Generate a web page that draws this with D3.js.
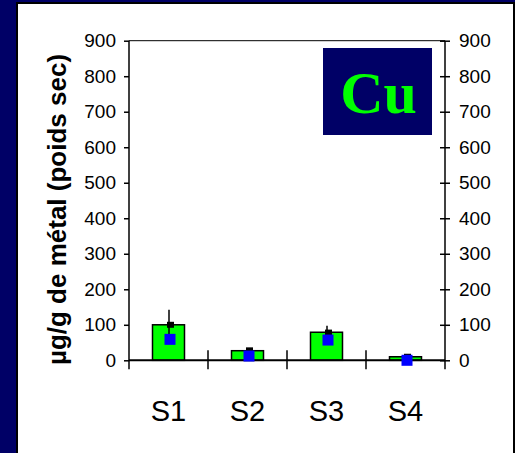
<!DOCTYPE html>
<html>
<head>
<meta charset="utf-8">
<script src="https://cdn.jsdelivr.net/npm/d3@7"></script>
<style>
  html, body { margin: 0; padding: 0; background: #000066; }
  svg { display: block; }
</style>
</head>
<body>
<div id="app"></div>
<script>
const width = 515;
const height = 453;

// data
const sites = ['S1', 'S2', 'S3', 'S4'];
const barValues = [100, 27, 79, 10];
const meanValues = [100, 28, 78, 10];
const errValues = [42, 5, 19, 3];
const blueValues = [59, 12, 57, 0];
const yTicks = [0, 100, 200, 300, 400, 500, 600, 700, 800, 900];
const metal = 'Cu';
const yTitle = 'µg/g de métal (poids sec)';

const svg = d3.create('svg')
  .attr('width', width)
  .attr('height', height);

svg.append('rect')
  .attr('width', width).attr('height', height)
  .attr('fill', '#000066');

// white panel
svg.append('rect')
  .attr('x', 17).attr('y', 3)
  .attr('width', 497).attr('height', 460)
  .attr('fill', '#fff')
  .attr('stroke', '#000')
  .attr('stroke-width', 2);

const x = d3.scaleBand().domain(sites).range([129, 445]);
const y = d3.scaleLinear().domain([0, 900]).range([360.3, 40.7]);

const font = 'Arial, "Liberation Sans", sans-serif';

// top frame line
svg.append('line')
  .attr('x1', x.range()[0]).attr('x2', x.range()[1])
  .attr('y1', y(900)).attr('y2', y(900))
  .attr('stroke', '#000').attr('stroke-width', 1);

// left axis
const left = svg.append('g')
  .attr('transform', `translate(${x.range()[0]},0)`)
  .call(d3.axisLeft(y).tickValues(yTicks).tickSizeInner(5).tickSizeOuter(0).tickPadding(8));
// right axis
const right = svg.append('g')
  .attr('transform', `translate(${x.range()[1]},0)`)
  .call(d3.axisRight(y).tickValues(yTicks).tickSizeInner(5).tickSizeOuter(0).tickPadding(9));
right.selectAll('.tick line').attr('x1', -5);

[left, right].forEach((g)=>{
  g.select('.domain').remove();
  g.selectAll('.tick line').attr('stroke', '#000').attr('stroke-width', 1.5);
  g.selectAll('.tick text')
    .attr('font-family', font)
    .attr('font-size', 19)
    .attr('fill', '#000');
});

// vertical axis lines, running a bit below zero
[x.range()[0], x.range()[1]].forEach((px)=>{
  svg.append('line')
    .attr('x1', px).attr('x2', px)
    .attr('y1', y(900)).attr('y2', y(0) + 9)
    .attr('stroke', '#000').attr('stroke-width', 1.5);
});

// category boundary ticks
sites.slice(1).forEach((s)=>{
  svg.append('line')
    .attr('x1', x(s)).attr('x2', x(s))
    .attr('y1', y(0) - 10).attr('y2', y(0) + 9)
    .attr('stroke', '#000').attr('stroke-width', 1.5);
});

// bars
const bw = x.bandwidth() * 0.405;
svg.append('g')
  .selectAll('rect')
  .data(sites)
  .join('rect')
  .attr('x', (d)=>x(d) + x.bandwidth() / 2 - bw / 2)
  .attr('y', (d, i)=>y(barValues[i]))
  .attr('width', bw)
  .attr('height', (d, i)=>y(0) - y(barValues[i]))
  .attr('fill', '#00ff00')
  .attr('stroke', '#000')
  .attr('stroke-width', 1.5);

// bottom axis line
svg.append('line')
  .attr('x1', x.range()[0]).attr('x2', x.range()[1])
  .attr('y1', y(0)).attr('y2', y(0))
  .attr('stroke', '#000').attr('stroke-width', 2);

// error lines
svg.append('g')
  .selectAll('line')
  .data(sites)
  .join('line')
  .attr('x1', (d)=>x(d) + x.bandwidth() / 2 + 0.5)
  .attr('x2', (d)=>x(d) + x.bandwidth() / 2 + 0.5)
  .attr('y1', (d, i)=>y(meanValues[i] + errValues[i]))
  .attr('y2', (d, i)=>y(meanValues[i] - errValues[i]))
  .attr('stroke', '#000')
  .attr('stroke-width', 1.5);

// black mean markers
svg.append('g')
  .selectAll('rect')
  .data(sites)
  .join('rect')
  .attr('x', (d)=>x(d) + x.bandwidth() / 2 + 2 - 3.5)
  .attr('y', (d, i)=>y(meanValues[i]) - 3)
  .attr('width', 7)
  .attr('height', 6)
  .attr('fill', '#000');

// blue markers
svg.append('g')
  .selectAll('rect')
  .data(sites)
  .join('rect')
  .attr('x', (d)=>x(d) + x.bandwidth() / 2 + 1.5 - 5.5)
  .attr('y', (d, i)=>y(blueValues[i]) - 5.5)
  .attr('width', 11)
  .attr('height', 11)
  .attr('fill', '#0000ff');

// category labels
svg.append('g')
  .selectAll('text')
  .data(sites)
  .join('text')
  .attr('x', (d)=>x(d) + x.bandwidth() / 2)
  .attr('y', 420.5)
  .attr('text-anchor', 'middle')
  .attr('font-family', font)
  .attr('font-size', 29)
  .attr('fill', '#000')
  .text((d)=>d);

// y title
svg.append('text')
  .attr('transform', 'translate(66,209.5) rotate(-90)')
  .attr('text-anchor', 'middle')
  .attr('font-family', font)
  .attr('font-weight', 'bold')
  .attr('font-size', 26)
  .attr('fill', '#000')
  .text(yTitle);

// metal label box
svg.append('rect')
  .attr('x', 323).attr('y', 48)
  .attr('width', 109).attr('height', 87)
  .attr('fill', '#000066');
svg.append('text')
  .attr('x', 378.5).attr('y', 113)
  .attr('text-anchor', 'middle')
  .attr('font-family', '"Times New Roman", "Liberation Serif", serif')
  .attr('font-weight', 'bold')
  .attr('font-size', 60)
  .attr('fill', '#00ff00')
  .text(metal);

document.getElementById('app').appendChild(svg.node());
</script>
</body>
</html>
